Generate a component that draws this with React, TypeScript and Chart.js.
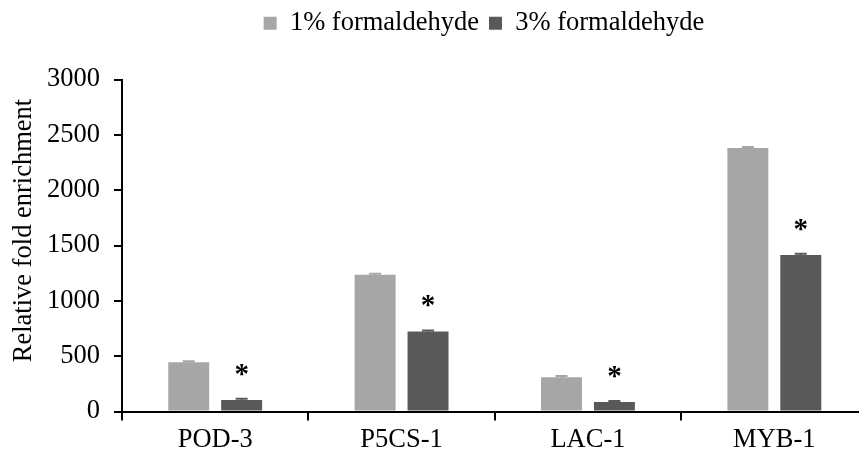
import React, { useEffect, useRef } from 'react';
import { Chart, registerables } from 'chart.js';

Chart.register(...registerables);

const categories = ['POD-3', 'P5CS-1', 'LAC-1', 'MYB-1'];
const seriesNames = ['1% formaldehyde', '3% formaldehyde'];
const values1 = [445, 1235, 310, 2380];
const values3 = [105, 722, 85, 1415];
const errors1 = [10, 10, 10, 10];
const errors3 = [10, 10, 10, 10];
const significant3 = [true, true, true, true];
const yMin = 0;
const yMax = 3000;
const yStep = 500;
const yTitle = 'Relative fold enrichment';
const colors = ['#A6A6A6', '#595959'];

const FONT = '"Liberation Serif", "Times New Roman", serif';
const FS = 26.5;

const errorPlugin = {
  id: 'errAndStars',
  beforeInit(chart: any) {
    const leg = chart.legend;
    if (leg) {
      const origFit = leg.fit;
      leg.fit = function () {
        origFit.call(this);
        this.height += 33;
      };
    }
  },
  afterDatasetsDraw(chart: any) {
    const ctx = chart.ctx;
    const ys = chart.scales.y;
    const errs = [errors1, errors3];
    chart.data.datasets.forEach((ds: any, i: number) => {
      const meta = chart.getDatasetMeta(i);
      meta.data.forEach((bar: any, j: number) => {
        const v = ds.data[j];
        const e = errs[i][j];
        const yt = ys.getPixelForValue(v + e);
        const yb = ys.getPixelForValue(v - e);
        ctx.save();
        ctx.strokeStyle = colors[i];
        ctx.lineWidth = 2;
        ctx.beginPath();
        ctx.moveTo(bar.x, yt);
        ctx.lineTo(bar.x, yb);
        ctx.moveTo(bar.x - 6, yt);
        ctx.lineTo(bar.x + 6, yt);
        ctx.stroke();
        if (i === 1 && significant3[j]) {
          ctx.fillStyle = '#000';
          ctx.font = `bold 29px ${FONT}`;
          ctx.textAlign = 'center';
          ctx.textBaseline = 'alphabetic';
          ctx.fillText('*', bar.x, yt - 16);
        }
        ctx.restore();
      });
    });
    // y-axis title
    const ca = chart.chartArea;
    ctx.save();
    ctx.fillStyle = '#000';
    ctx.font = `${FS}px ${FONT}`;
    ctx.textAlign = 'center';
    ctx.textBaseline = 'middle';
    ctx.translate(24, (ca.top + ca.bottom) / 2 - 15);
    ctx.rotate(-Math.PI / 2);
    ctx.fillText(yTitle, 0, 0);
    ctx.restore();
  },
};

export default function App() {
  const ref = useRef<HTMLCanvasElement>(null);
  useEffect(() => {
    if (!ref.current) return;
    const chart = new Chart(ref.current, {
      type: 'bar',
      data: {
        labels: categories,
        datasets: [
          {
            label: seriesNames[0],
            data: values1,
            backgroundColor: colors[0],
            categoryPercentage: 0.568,
            barPercentage: 0.774,
            yAxisID: 'y',
          },
          {
            label: seriesNames[1],
            data: values3,
            backgroundColor: colors[1],
            categoryPercentage: 0.568,
            barPercentage: 0.774,
            yAxisID: 'y',
          },
        ],
      },
      options: {
        responsive: false,
        animation: false,
        layout: { padding: { top: 0, bottom: 0, left: 0, right: 0 } },
        plugins: {
          tooltip: { enabled: false },
          legend: {
            position: 'top',
            labels: {
              boxWidth: 13,
              boxHeight: 13,
              color: '#000',
              padding: 10,
              font: { family: FONT, size: FS },
            },
          },
        },
        scales: {
          x: {
            grid: {
              display: true,
              drawOnChartArea: false,
              drawTicks: true,
              tickLength: 9,
              color: '#000',
              lineWidth: 2,
              offset: true,
            },
            border: { display: true, color: '#000', width: 2 },
            ticks: {
              color: '#000',
              font: { family: FONT, size: FS },
              padding: 4,
            },
            afterFit(s: any) {
              s.height = 45.5;
            },
          },
          y: {
            min: yMin,
            max: yMax,
            grid: {
              display: true,
              drawOnChartArea: false,
              drawTicks: true,
              tickLength: 8,
              color: '#000',
              lineWidth: 2,
            },
            border: { display: true, color: '#000', width: 2 },
            ticks: {
              stepSize: yStep,
              color: '#000',
              padding: 14,
              font: { family: FONT, size: FS },
              callback: (v: any) => String(v),
            },
            afterFit(s: any) {
              s.width = 122;
            },
          },
          yRight: {
            position: 'right',
            display: true,
            grid: { display: false },
            border: { display: false },
            ticks: { display: false },
            afterFit(s: any) {
              s.width = 100.5;
            },
          },
        },
      },
      plugins: [errorPlugin],
    } as any);
    return () => chart.destroy();
  }, []);
  return (
    <div
      style={{
        position: 'absolute',
        left: 0,
        top: 0,
        width: 859,
        height: 457,
        overflow: 'hidden',
        background: '#fff',
      }}
    >
      <canvas ref={ref} width={968} height={457} style={{ display: 'block' }} />
    </div>
  );
}
